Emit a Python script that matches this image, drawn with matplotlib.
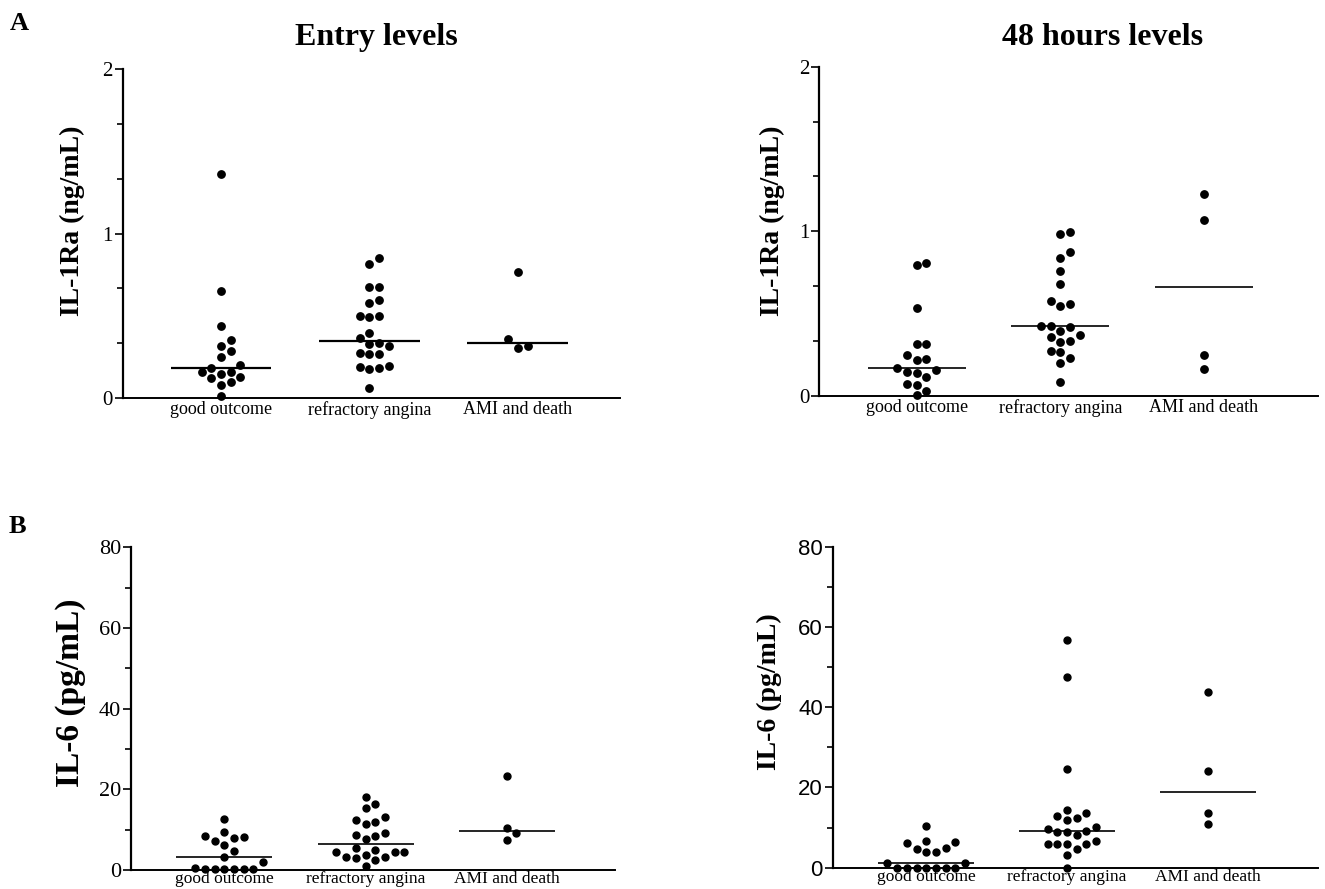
import numpy as np
import matplotlib
matplotlib.use('Agg')
import matplotlib.pyplot as plt

plt.rcParams['font.family'] = ['Liberation Serif', 'DejaVu Serif']

# Kategori dan data
groups = ['good outcome', 'refractory angina', 'AMI and death']

il1ra_entry_good = [1.362, 0.650, 0.440, 0.355, 0.314, 0.288, 0.251, 0.203, 0.180,
                    0.158, 0.158, 0.144, 0.130, 0.120, 0.095, 0.077, 0.010]
il1ra_entry_refr = [0.853, 0.817, 0.675, 0.675, 0.598, 0.578, 0.496, 0.492, 0.496,
                    0.395, 0.363, 0.334, 0.326, 0.314, 0.274, 0.265, 0.267, 0.193,
                    0.182, 0.176, 0.186, 0.059]
il1ra_entry_ami = [0.766, 0.359, 0.302, 0.314]

il1ra_48h_good = [0.796, 0.810, 0.532, 0.314, 0.314, 0.225, 0.221, 0.247, 0.170,
                  0.158, 0.138, 0.144, 0.117, 0.073, 0.067, 0.032, 0.004]
il1ra_48h_refr = [0.994, 0.986, 0.874, 0.838, 0.761, 0.678, 0.561, 0.545, 0.575,
                  0.425, 0.397, 0.421, 0.425, 0.368, 0.360, 0.332, 0.328, 0.267,
                  0.275, 0.229, 0.202, 0.087]
il1ra_48h_ami = [1.227, 1.069, 0.251, 0.162]

il6_entry_good = [12.7, 9.4, 8.4, 7.9, 8.2, 7.2, 6.3, 4.8, 3.1, 2.1, 0.6,
                  0.2, 0.2, 0.2, 0.2, 0.2, 0.2]
il6_entry_refr = [18.1, 15.3, 16.4, 13.2, 11.9, 11.4, 12.5, 8.8, 8.4, 9.1, 7.6,
                  5.4, 4.5, 4.5, 4.4, 5.0, 3.3, 2.9, 3.6, 2.5, 3.3, 1.0]
il6_entry_ami = [23.4, 10.3, 9.2, 7.4]

il6_48h_good = [10.5, 6.3, 6.7, 6.1, 4.9, 3.9, 3.9, 4.6, 1.1, 1.1,
                0.0, 0.0, 0.0, 0.0, 0.0, 0.0, 0.0]
il6_48h_refr = [56.7, 47.5, 24.7, 14.5, 13.0, 12.0, 12.5, 13.7, 9.6, 8.8, 9.0,
                9.1, 10.1, 8.1, 6.7, 6.0, 6.0, 6.0, 6.0, 4.7, 3.2, 0.0]
il6_48h_ami = [43.8, 24.0, 13.6, 11.0]

W, H = 1325, 889
fig = plt.figure(figsize=(W / 100, H / 100), dpi=100)


def make_axes(left, right, top, bottom, xlim, ylim):
    ax = fig.add_axes([left / W, (H - bottom) / H, (right - left) / W, (bottom - top) / H])
    ax.set_xlim(xlim)
    ax.set_ylim(ylim)
    for s in ['top', 'right']:
        ax.spines[s].set_visible(False)
    ax.spines['left'].set_linewidth(1.6)
    ax.spines['bottom'].set_linewidth(1.4)
    return ax


def swarm(ax, xc, vals, step_px=9.7, d_px=9.7):
    vals = np.asarray(vals, dtype=float)
    tr = ax.transData
    pts = tr.transform(np.column_stack([np.full(len(vals), xc), vals]))
    ys = pts[:, 1]
    px_unit = tr.transform([[1, 0]])[0, 0] - tr.transform([[0, 0]])[0, 0]
    order = np.argsort(ys)
    placed = []
    offs = np.zeros(len(vals))
    for i in order:
        for k in [0, 1, -1, 2, -2, 3, -3, 4, -4, 5, -5]:
            dx = k * step_px
            if all((dx - p[0]) ** 2 + (ys[i] - p[1]) ** 2 >= d_px ** 2 for p in placed):
                break
        placed.append((dx, ys[i]))
        offs[i] = dx / px_unit
    return xc + offs, vals


def draw_panel(ax, series, ms, med_lw):
    for i, vals in enumerate(series):
        xs, ys = swarm(ax, i, vals)
        ax.plot(xs, ys, 'o', ms=ms, color='black', mec='black', clip_on=False, zorder=3)
        ax.hlines(np.median(vals), i - 0.34, i + 0.34, color='black', lw=med_lw, zorder=2)
    ax.set_xticks(range(len(groups)))
    ax.set_xticklabels(groups)
    ax.tick_params(axis='x', length=0, pad=2)
    ax.tick_params(axis='y', which='major', length=6, width=1.2, pad=1)
    ax.tick_params(axis='y', which='minor', length=4, width=1.2)


# Panel A - entry
ax1 = make_axes(122.7, 620, 69.3, 398, (-0.662, 2.687), (0, 2))
draw_panel(ax1, [il1ra_entry_good, il1ra_entry_refr, il1ra_entry_ami], 5.3, 1.6)
ax1.set_yticks([0, 1, 2])
ax1.set_yticks(np.arange(0, 2.01, 1 / 3), minor=True)
ax1.tick_params(axis='x', labelsize=13)
ax1.tick_params(axis='y', labelsize=15)

# Panel A - 48 jam
ax2 = make_axes(819.3, 1318, 66.7, 396, (-0.678, 2.794), (0, 2))
draw_panel(ax2, [il1ra_48h_good, il1ra_48h_refr, il1ra_48h_ami], 5.3, 1.2)
ax2.set_yticks([0, 1, 2])
ax2.set_yticks(np.arange(0, 2.01, 1 / 3), minor=True)
ax2.tick_params(axis='x', labelsize=13)
ax2.tick_params(axis='y', labelsize=15)

# Panel B - entry
ax3 = make_axes(130.7, 615, 547.3, 870, (-0.663, 2.767), (0, 80))
draw_panel(ax3, [il6_entry_good, il6_entry_refr, il6_entry_ami], 5.0, 1.2)
ax3.set_yticks([0, 20, 40, 60, 80])
ax3.set_yticks(np.arange(0, 81, 10), minor=True)
ax3.tick_params(axis='x', labelsize=12.5, pad=1)
ax3.tick_params(axis='y', labelsize=16)

# Panel B - 48 jam
ax4 = make_axes(832.7, 1318, 546.7, 867.7, (-0.665, 2.784), (0, 80))
draw_panel(ax4, [il6_48h_good, il6_48h_refr, il6_48h_ami], 5.0, 1.2)
ax4.set_yticks([0, 20, 40, 60, 80])
ax4.set_yticks(np.arange(0, 81, 10), minor=True)
ax4.tick_params(axis='x', labelsize=12.5, pad=1)
ax4.tick_params(axis='y', labelsize=16)
for lab in ax4.get_yticklabels():
    lab.set_family(['Liberation Sans', 'DejaVu Sans'])

# Judul, huruf panel, label sumbu
fig.text(376 / W, 1 - 45 / H, 'Entry levels', ha='center', va='baseline',
         fontsize=23, fontweight='bold')
fig.text(1103 / W, 1 - 45 / H, '48 hours levels', ha='center', va='baseline',
         fontsize=23, fontweight='bold')
fig.text(10 / W, 1 - 30 / H, 'A', ha='left', va='baseline', fontsize=19, fontweight='bold')
fig.text(9 / W, 1 - 533 / H, 'B', ha='left', va='baseline', fontsize=19, fontweight='bold')

fig.text(72 / W, 1 - 221 / H, 'IL-1Ra (ng/mL)', rotation=90, ha='center', va='center',
         fontsize=20, fontweight='bold')
fig.text(772 / W, 1 - 221 / H, 'IL-1Ra (ng/mL)', rotation=90, ha='center', va='center',
         fontsize=20, fontweight='bold')
fig.text(71 / W, 1 - 693 / H, 'IL-6 (pg/mL)', rotation=90, ha='center', va='center',
         fontsize=24, fontweight='bold')
fig.text(769 / W, 1 - 692 / H, 'IL-6 (pg/mL)', rotation=90, ha='center', va='center',
         fontsize=20, fontweight='bold')

fig.savefig('out.png', dpi=100)
